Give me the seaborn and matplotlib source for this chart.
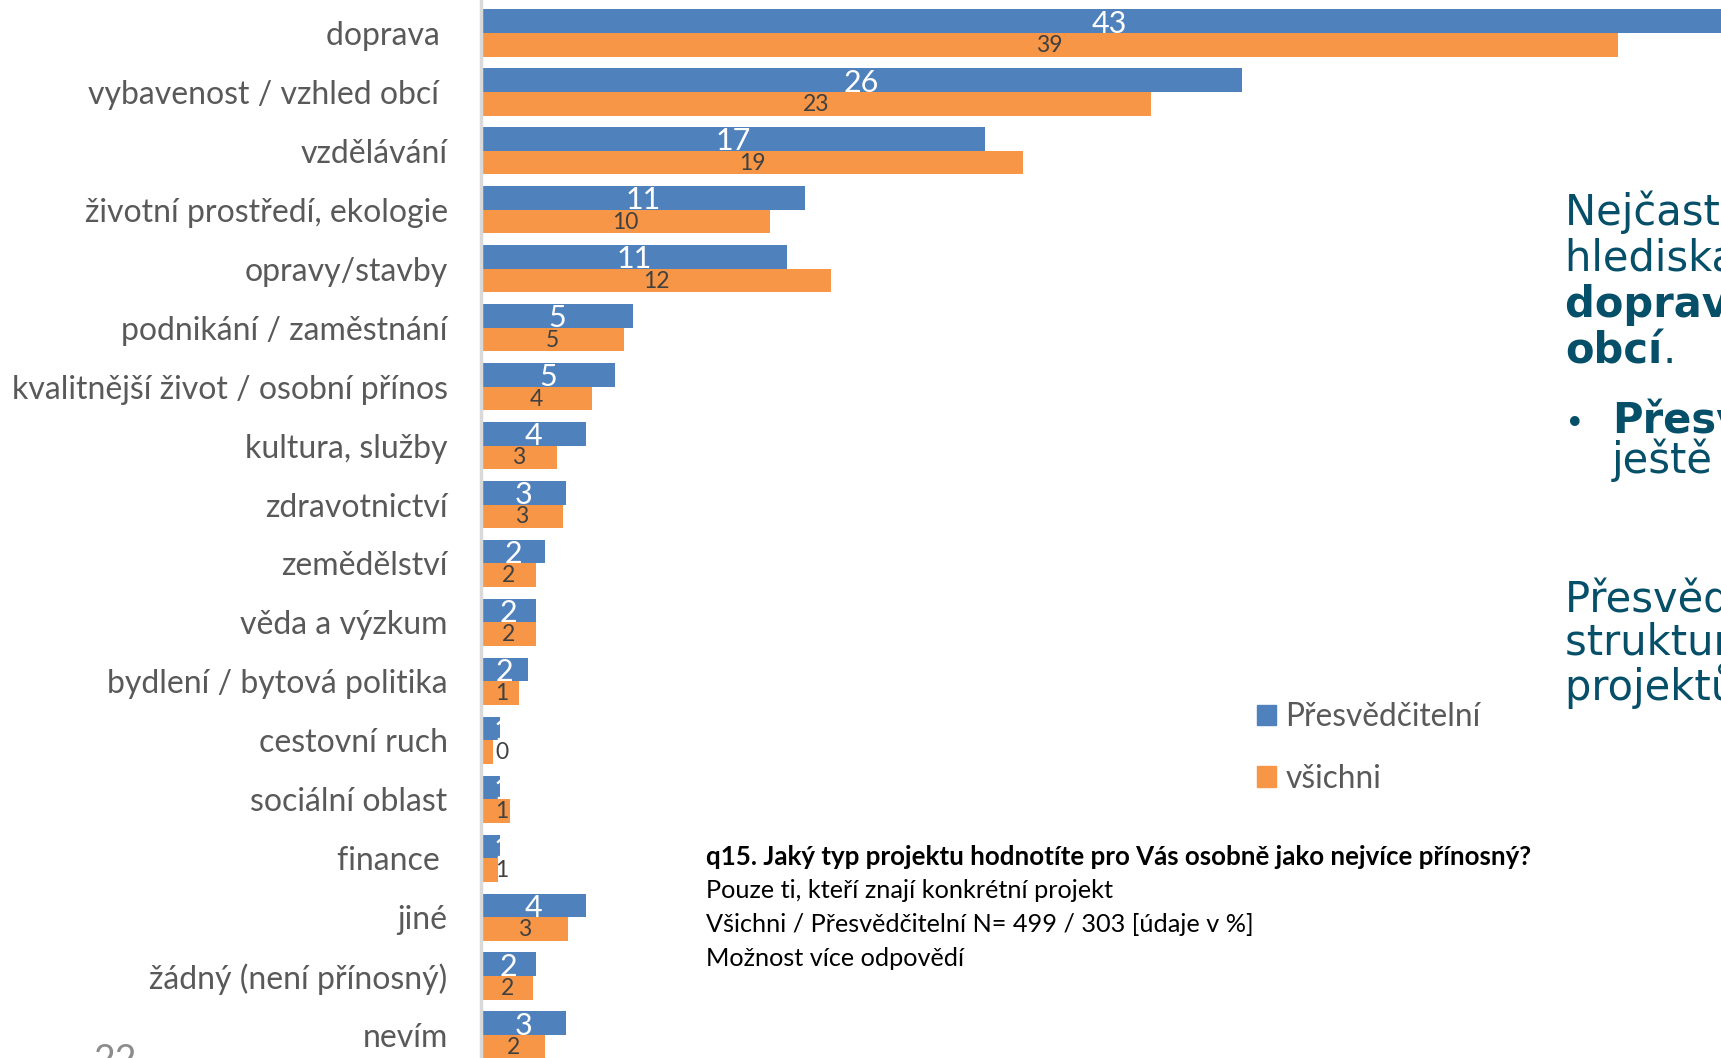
import pandas as pd
import matplotlib.pyplot as plt
import seaborn as sns
from matplotlib.patches import Patch

# --- Data ---
categories = [
    "doprava ", "vybavenost / vzhled obcí ", "vzdělávání",
    "životní prostředí, ekologie", "opravy/stavby", "podnikání / zaměstnání",
    "kvalitnější život / osobní přínos", "kultura, služby", "zdravotnictví",
    "zemědělství", "věda a výzkum", "bydlení / bytová politika",
    "cestovní ruch", "sociální oblast", "finance ", "jiné",
    "žádný (není přínosný)", "nevím",
]
presvedcitelni = [43.1, 26.1, 17.3, 11.1, 10.51, 5.2, 4.6, 3.6, 2.9, 2.2,
                  1.9, 1.6, 0.65, 0.65, 0.65, 3.6, 1.9, 2.9]
vsichni = [39.0, 23.0, 18.6, 9.9, 12.0, 4.9, 3.8, 2.6, 2.8, 1.9,
           1.9, 1.3, 0.4, 1.0, 0.6, 3.0, 1.8, 2.2]
groups = ["Přesvědčitelní", "všichni"]

BLUE = "#4f81bd"
ORANGE = "#f79646"
GREY = "#595959"
TEAL = "#064f69"

df = pd.DataFrame({
    "kategorie": categories * 2,
    "hodnota": presvedcitelni + vsichni,
    "skupina": [groups[0]] * len(categories) + [groups[1]] * len(categories),
})

W, H = 1721, 1058
fig = plt.figure(figsize=(W / 100, H / 100), dpi=100)
ax = fig.add_axes([481 / W, 0, 1 - 481 / W, 1])

sns.barplot(data=df, y="kategorie", x="hodnota", hue="skupina", orient="h",
            palette=[BLUE, ORANGE], width=0.8, saturation=1, legend=False,
            order=categories, hue_order=groups, ax=ax)

ax.set_xlim(0, 42.54)
ax.set_ylim(17.39, -0.56)
ax.set_xlabel("")
ax.set_ylabel("")
ax.set_xticks([])
for s in ["top", "right", "bottom"]:
    ax.spines[s].set_visible(False)
ax.spines["left"].set_color("#d9d9d9")
ax.spines["left"].set_linewidth(2.5)
ax.tick_params(axis="y", length=0, pad=24, labelsize=23, labelcolor=GREY)
for lab in ax.get_yticklabels():
    lab.set_fontfamily("Lato")

# value labels
for i in range(len(categories)):
    p, v = presvedcitelni[i], vsichni[i]
    ax.text(max(p / 2, 0.72), i - 0.16, f"{p:.0f}", ha="center", va="center",
            color="white", fontsize=22, family="Lato")
    ax.text(max(v / 2, 0.72), i + 0.21, f"{v:.0f}", ha="center", va="center",
            color="#404040", fontsize=16.5, family="Lato")

# legend
handles = [Patch(color=BLUE), Patch(color=ORANGE)]
leg = fig.legend(handles, groups, loc="upper left",
                 bbox_to_anchor=(1257 / W, 1 - 702 / H), frameon=False,
                 handlelength=0.6, handleheight=0.6,
                 handletextpad=0.3, labelspacing=1.0, borderpad=0,
                 borderaxespad=0, prop={"family": "Lato", "size": 22.8})
for t in leg.get_texts():
    t.set_color(GREY)

# question note
note = [
    ("q15. Jaký typ projektu hodnotíte pro Vás osobně jako nejvíce přínosný?", "bold", 18.6),
    ("Pouze ti, kteří znají konkrétní projekt", "normal", 18.2),
    ("Všichni / Přesvědčitelní N= 499 / 303 [údaje v %]", "normal", 18.2),
    ("Možnost více odpovědí", "normal", 18.2),
]
for k, (txt, wt, fs) in enumerate(note):
    fig.text(706 / W, 1 - (857 + k * 33.7) / H, txt, ha="left", va="center",
             fontsize=fs, fontweight=wt, family="Lato", color="black")

# commentary text on the right (cut off by the slide edge)
side = [
    (225, 1565, "Nejčastěji jsou z osobního", "normal"),
    (271, 1565, "hlediska přínosné projekty", "normal"),
    (317, 1565, "dopravy a vybavenosti", "bold"),
    (434, 1612, "Přesvědčitelní", "bold"),
    (473, 1612, "ještě o něco více", "normal"),
    (612, 1565, "Přesvědčitelní mají", "normal"),
    (655, 1565, "strukturu přínosných", "normal"),
    (700, 1565, "projektů podobnou", "normal"),
]
FS_SIDE = 30
for yb, xl, txt, wt in side:
    fig.text(xl / W, 1 - yb / H, txt, ha="left", va="baseline",
             fontsize=FS_SIDE, fontweight=wt, family="DejaVu Sans", color=TEAL)
obci = fig.text(1565 / W, 1 - 363 / H, "obcí", ha="left", va="baseline",
                fontsize=FS_SIDE, fontweight="bold", family="DejaVu Sans", color=TEAL)
fig.canvas.draw()
bb = obci.get_window_extent(fig.canvas.get_renderer())
fig.text(bb.x1 / W, 1 - 363 / H, ".", ha="left", va="baseline",
         fontsize=FS_SIDE, family="DejaVu Sans", color=TEAL)
fig.text(1565 / W, 1 - 434 / H, "•", ha="left", va="baseline",
         fontsize=24, family="DejaVu Sans", color=TEAL)

# page number
fig.text(93 / W, 1 - 1043 / H, "22", ha="left", va="top", fontsize=27,
         family="Lato", color="#8c8c8c")

fig.savefig("out.png", dpi=100)
